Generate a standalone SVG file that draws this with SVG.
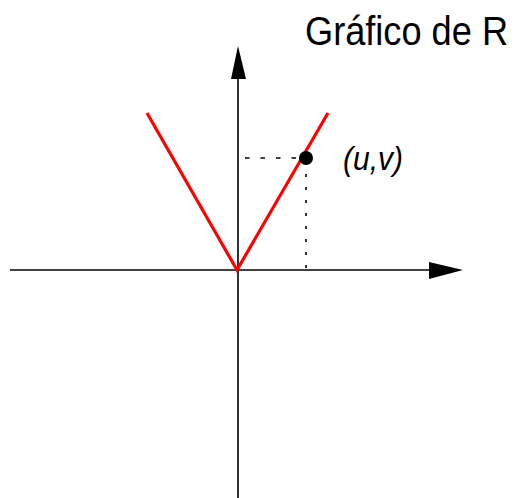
<svg xmlns="http://www.w3.org/2000/svg" width="516" height="498" viewBox="0 0 516 498">
<style>
.axis{stroke:#000;stroke-width:1.6;fill:none}
.dot{stroke:#000;stroke-width:1.6;fill:none}
.red{stroke:#ff0000;stroke-width:3.2;fill:none}
.t{font-family:"Liberation Sans",Arial,sans-serif;fill:#000}
</style>
<rect width="516" height="498" fill="#fff"/>
<g id="connectors">
<line class="axis" x1="10" y1="270" x2="432" y2="270"/>
<polygon points="429,262 463,270 429,279" fill="#000"/>
<line class="axis" x1="238" y1="498" x2="238" y2="76"/>
<polygon points="231,79 238,46 246,79" fill="#000"/>
<line class="dot" x1="245" y1="158" x2="300" y2="158" stroke-dasharray="4.5 11"/>
<line class="dot" x1="306" y1="174" x2="306" y2="270" stroke-dasharray="3 10"/>
<polyline class="red" points="147,113 237,270 328,113"/>
</g>
<g id="point">
<circle cx="306" cy="158" r="7" fill="#000"/>
</g>
<g id="label-uv">
<text class="t" x="343" y="170" font-size="34" font-style="italic" textLength="60" lengthAdjust="spacingAndGlyphs">(u,v)</text>
</g>
<g id="title">
<text class="t" x="305" y="45" font-size="40" textLength="203" lengthAdjust="spacingAndGlyphs">Gráfico de R</text>
</g>
</svg>
